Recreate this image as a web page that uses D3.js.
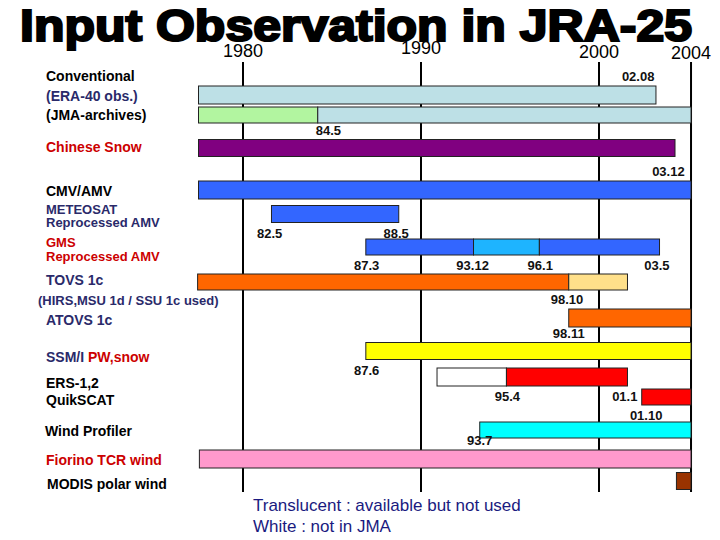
<!DOCTYPE html>
<html>
<head>
<meta charset="utf-8">
<script src="https://cdn.jsdelivr.net/npm/d3@7"></script>
<style>
  body { margin: 0; background: #fff; }
  text { font-family: Arial, "Liberation Sans", sans-serif; }
</style>
</head>
<body>
<svg id="chart" width="720" height="540"></svg>
<script>
// rows of the timeline
const rows = ['conv', 'jma', 'snow', 'cmv', 'meteosat', 'gms', 'tovs', 'atovs', 'ssmi', 'ers', 'quik', 'wprof', 'fiorino', 'modis']

// segments: row, start year, end year, kind
const segments = [
  { row: 'conv', start: 1977.5, end: 2003.2, kind: 'conv' },
  { row: 'jma', start: 1977.5, end: 1984.2, kind: 'jmaOld' },
  { row: 'jma', start: 1984.2, end: 2005.17, kind: 'conv' },
  { row: 'snow', start: 1977.5, end: 2004.27, kind: 'snow' },
  { row: 'cmv', start: 1977.5, end: 2005.17, kind: 'amv' },
  { row: 'meteosat', start: 1981.6, end: 1988.75, kind: 'amv' },
  { row: 'gms', start: 1986.9, end: 1992.95, kind: 'amv' },
  { row: 'gms', start: 1992.95, end: 1996.65, kind: 'amvLight' },
  { row: 'gms', start: 1996.65, end: 2003.4, kind: 'amv' },
  { row: 'tovs', start: 1977.45, end: 1998.3, kind: 'tovs' },
  { row: 'tovs', start: 1998.3, end: 2001.6, kind: 'unused' },
  { row: 'atovs', start: 1998.3, end: 2005.17, kind: 'tovs' },
  { row: 'ssmi', start: 1986.9, end: 2005.17, kind: 'ssmi' },
  { row: 'ers', start: 1990.9, end: 1994.8, kind: 'notJma' },
  { row: 'ers', start: 1994.8, end: 2001.6, kind: 'scat' },
  { row: 'quik', start: 2002.4, end: 2005.17, kind: 'scat' },
  { row: 'wprof', start: 1993.3, end: 2005.17, kind: 'wprof' },
  { row: 'fiorino', start: 1977.55, end: 2005.17, kind: 'tcr' },
  { row: 'modis', start: 2004.35, end: 2005.17, kind: 'modis' }
]

// date labels: text, centre year, row, above (-1) / beside (0) / below (1)
const dateLabels = [
  { text: '02.08', at: 2002.2, row: 'conv', side: -1 },
  { text: '84.5', at: 1984.8, row: 'snow', side: -1 },
  { text: '03.12', at: 2003.9, row: 'cmv', side: -1 },
  { text: '82.5', at: 1981.5, row: 'meteosat', side: 1 },
  { text: '88.5', at: 1988.6, row: 'meteosat', side: 1 },
  { text: '87.3', at: 1986.95, row: 'gms', side: 1 },
  { text: '93.12', at: 1992.9, row: 'gms', side: 1 },
  { text: '96.1', at: 1996.7, row: 'gms', side: 1 },
  { text: '03.5', at: 2003.25, row: 'gms', side: 1 },
  { text: '98.10', at: 1998.2, row: 'atovs', side: -1 },
  { text: '98.11', at: 1998.3, row: 'ssmi', side: -1 },
  { text: '87.6', at: 1986.95, row: 'ssmi', side: 1 },
  { text: '95.4', at: 1994.85, row: 'ers', side: 1 },
  { text: '01.1', at: 2001.45, row: 'quik', side: 0 },
  { text: '01.10', at: 2002.65, row: 'quik', side: 1 },
  { text: '93.7', at: 1993.3, row: 'fiorino', side: -1 }
]

const gridYears = [1980, 1990, 2000, 2005.17]
const yearLabels = ['1980', '1990', '2000', '2004']

// left-hand captions: text pieces per line
const captions = [
  [['Conventional', 'black']],
  [['(ERA-40 obs.)', 'navy']],
  [['(JMA-archives)', 'black']],
  [['Chinese Snow', 'red']],
  [['CMV/AMV', 'black']],
  [['METEOSAT', 'navy']],
  [['Reprocessed AMV', 'navy']],
  [['GMS', 'red']],
  [['Reprocessed AMV', 'red']],
  [['TOVS 1c', 'navy']],
  [['(HIRS,MSU 1d / SSU 1c used)', 'navy']],
  [['ATOVS 1c', 'navy']],
  [['SSM/I ', 'navy'], ['PW,snow', 'red']],
  [['ERS-1,2', 'black']],
  [['QuikSCAT', 'black']],
  [['Wind Profiler', 'black']],
  [['Fiorino TCR wind', 'red']],
  [['MODIS polar wind', 'black']]
]
const notes = ['Translucent : available but not used', 'White : not in JMA']

const svg = d3.select('#chart')

const x = d3.scaleLinear().domain([1980, 2000]).range([243, 599])

// row layout
const rowY = d3.scaleOrdinal().domain(rows)
  .range([95, 115, 148, 190, 214, 247, 282, 318, 351, 377, 397, 430, 459, 481])
const rowH = d3.scaleOrdinal().domain(rows)
  .range([18, 16, 17, 18, 17, 16, 16, 18, 17, 18, 16, 16, 18, 17])

const fillOf = d3.scaleOrdinal()
  .domain(['conv', 'jmaOld', 'snow', 'amv', 'amvLight', 'tovs', 'unused', 'ssmi', 'notJma', 'scat', 'wprof', 'tcr', 'modis'])
  .range(['#bde0e6', '#b2f5a0', '#800080', '#3366ff', '#1eb4ff', '#ff6600', '#ffe08a', '#ffff00', '#ffffff', '#ff0000', '#00ffff', '#ff99cc', '#993300'])

const colour = { black: '#000', navy: '#2a2a6a', red: '#cc0000' }

// grid lines
svg.append('g').selectAll('line').data(gridYears).enter().append('line')
  .attr('x1', d => x(d)).attr('x2', d => x(d))
  .attr('y1', 62).attr('y2', 492)
  .attr('stroke', '#000').attr('stroke-width', 2)

svg.append('g').selectAll('text').data(yearLabels).enter().append('text')
  .attr('x', (d, i) => x(gridYears[i]))
  .attr('y', (d, i) => [57, 54, 58, 59][i])
  .attr('text-anchor', 'middle')
  .style('font-size', '18px')
  .text(d => d)

// title (heavy, drawn over the year labels like the original)
svg.append('text')
  .attr('x', 20).attr('y', 41)
  .style('font-size', '44px').style('font-weight', 'bold')
  .style('stroke', '#000').style('stroke-width', 2.2)
  .attr('textLength', 672).attr('lengthAdjust', 'spacingAndGlyphs')
  .text('Input Observation in JRA-25')

// bars
svg.append('g').selectAll('rect').data(segments).enter().append('rect')
  .attr('x', d => x(d.start))
  .attr('width', d => x(d.end) - x(d.start))
  .attr('y', d => rowY(d.row) - rowH(d.row) / 2)
  .attr('height', d => rowH(d.row))
  .attr('fill', d => fillOf(d.kind))
  .attr('stroke', '#222').attr('stroke-width', 1)

// date labels
svg.append('g').selectAll('text').data(dateLabels).enter().append('text')
  .attr('x', d => x(d.at))
  .attr('y', d => d.side < 0 ? rowY(d.row) - rowH(d.row) / 2 - 5
    : d.side > 0 ? rowY(d.row) + rowH(d.row) / 2 + 15 : rowY(d.row) + 4)
  .attr('text-anchor', 'middle')
  .style('font-size', '13px').style('font-weight', 'bold')
  .style('fill', '#111')
  .text(d => d.text)

// captions
const capY = [81, 101, 120, 152, 196, 214, 227, 247, 261, 285, 305, 325, 362, 388, 405, 436, 465, 489]
const capX = [46, 46, 46, 46, 46, 46, 46, 46, 46, 46, 38, 46, 46, 46, 46, 45, 46, 47]
const capSize = [14, 14, 14, 14, 14, 13, 13, 13, 13, 14, 13, 14, 14, 14, 14, 14, 14, 14]
svg.append('g').selectAll('text').data(captions).enter().append('text')
  .attr('x', (d, i) => capX[i]).attr('y', (d, i) => capY[i])
  .style('font-size', (d, i) => capSize[i] + 'px')
  .style('font-weight', 'bold')
  .each(function(d) {
    d3.select(this).selectAll('tspan').data(d).enter().append('tspan')
      .style('fill', p => colour[p[1]])
      .text(p => p[0])
  })

// notes
svg.append('g').selectAll('text').data(notes).enter().append('text')
  .attr('x', 253).attr('y', (d, i) => 511 + i * 21)
  .style('font-size', '17px').style('fill', '#1a1a80')
  .text(d => d)
</script>
</body>
</html>
